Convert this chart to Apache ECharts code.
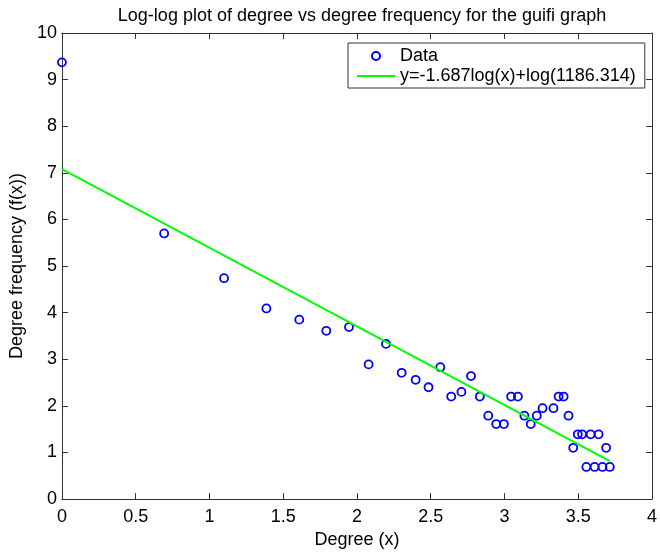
<!DOCTYPE html>
<html>
<head>
<meta charset="utf-8">
<script src="https://cdn.jsdelivr.net/npm/echarts@6/dist/echarts.min.js"></script>
<style>
html,body{margin:0;padding:0;background:#fff;}
#chart{width:660px;height:554px;}
</style>
</head>
<body>
<div id="chart"></div>
<script>
// log(degree)
var degreeLog = [0, 0.693, 1.099, 1.386, 1.609, 1.792, 1.946, 2.079, 2.197, 2.303,
  2.398, 2.485, 2.565, 2.639, 2.708, 2.773, 2.833, 2.890, 2.944, 2.996,
  3.045, 3.091, 3.135, 3.178, 3.219, 3.258, 3.332, 3.367, 3.401, 3.434,
  3.466, 3.497, 3.526, 3.555, 3.584, 3.611, 3.638, 3.664, 3.689, 3.714];
// log(frequency)
var freqLog = [9.37, 5.70, 4.74, 4.09, 3.85, 3.61, 3.69, 2.89, 3.33, 2.71,
  2.56, 2.40, 2.83, 2.20, 2.30, 2.64, 2.20, 1.79, 1.61, 1.61,
  2.20, 2.20, 1.79, 1.61, 1.79, 1.95, 1.95, 2.20, 2.20, 1.79,
  1.10, 1.39, 1.39, 0.69, 1.39, 0.69, 1.39, 0.69, 1.10, 0.69];
// fitted line end points
var fitX = [0, 3.714];
var fitY = [7.079, 0.813];
var seriesNames = ['Data', 'y=-1.687log(x)+log(1186.314)'];
var titleText = 'Log-log plot of degree vs degree frequency for the guifi graph';
var xName = 'Degree (x)';
var yName = 'Degree frequency (f(x))';

var FONT = '"Liberation Sans", Arial, Helvetica, sans-serif';
var AX = '#333333';

var scatterData = degreeLog.map(function (x, i) { return [x, freqLog[i]]; });
var fitData = fitX.map(function (x, i) { return [x, fitY[i]]; });

var chart = echarts.init(document.getElementById('chart'), null, {renderer: 'canvas'});

function axisCommon(extra) {
  var base = {
    type: 'value',
    axisLine: {show: true, onZero: false, lineStyle: {color: AX, width: 1}},
    axisTick: {show: true, inside: true, length: 6, lineStyle: {color: AX, width: 1}},
    splitLine: {show: false},
    axisLabel: {color: '#000', fontSize: 18, fontFamily: FONT}
  };
  return Object.assign(base, extra);
}

chart.setOption({
  animation: false,
  backgroundColor: '#fff',
  title: {
    text: titleText,
    left: 357, textAlign: 'center',
    top: 2,
    textStyle: {fontSize: 18, fontWeight: 'normal', color: '#000', fontFamily: FONT}
  },
  grid: {left: 59, right: 4, top: 33, bottom: 51, show: false},
  legend: {
    orient: 'vertical',
    left: 348, top: 43,
    padding: [4, 9, 3, 9],
    itemGap: 2,
    itemWidth: 38, itemHeight: 8,
    borderColor: AX, borderWidth: 1,
    backgroundColor: '#fff',
    textStyle: {fontSize: 18, color: '#000', fontFamily: FONT},
    data: [
      {name: seriesNames[0], icon: 'circle'},
      {name: seriesNames[1], icon: 'path://M0 0H38V2H0Z'}
    ]
  },
  xAxis: [
    axisCommon({min: 0, max: 4, interval: 0.5, position: 'bottom',
      name: xName, nameLocation: 'middle', nameGap: 31,
      nameTextStyle: {fontSize: 18, color: '#000', fontFamily: FONT},
      axisLabel: {color: '#000', fontSize: 18, fontFamily: FONT, margin: 9}}),
    axisCommon({min: 0, max: 4, interval: 0.5, position: 'top',
      axisLabel: {show: false}})
  ],
  yAxis: [
    axisCommon({min: 0, max: 10, interval: 1, position: 'left',
      name: yName, nameLocation: 'middle', nameGap: 23,
      nameTextStyle: {fontSize: 18, color: '#000', fontFamily: FONT},
      axisLabel: {color: '#000', fontSize: 18, fontFamily: FONT, margin: 5}}),
    axisCommon({min: 0, max: 10, interval: 1, position: 'right',
      axisLabel: {show: false}})
  ],
  series: [
    {
      name: seriesNames[0],
      type: 'scatter',
      xAxisIndex: 0, yAxisIndex: 0,
      symbol: 'circle',
      symbolSize: 8,
      itemStyle: {color: 'rgba(255,255,255,0)', borderColor: '#0000ff', borderWidth: 1.8, opacity: 1},
      data: scatterData,
      z: 2
    },
    {
      name: seriesNames[1],
      type: 'line',
      xAxisIndex: 0, yAxisIndex: 0,
      symbol: 'none',
      color: '#00ff00',
      lineStyle: {color: '#00ff00', width: 2},
      data: fitData,
      z: 3
    }
  ]
});
</script>
</body>
</html>
